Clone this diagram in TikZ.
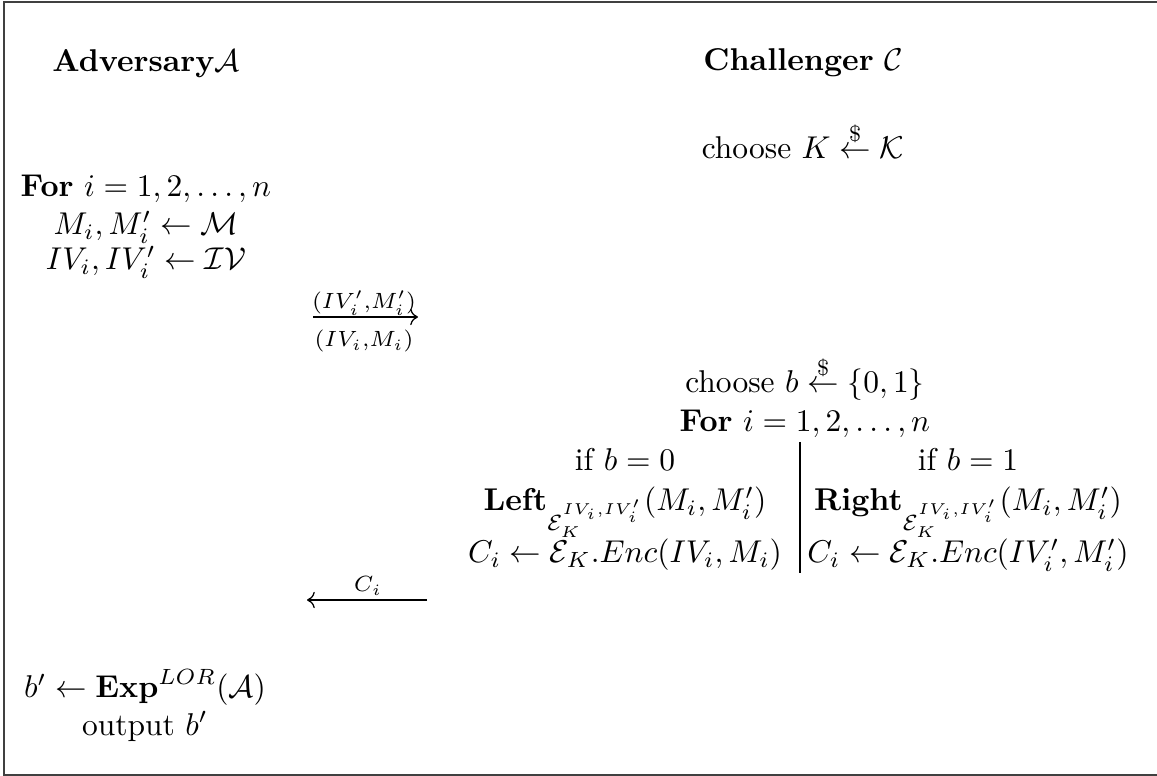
\documentclass[tikz,border=0pt]{standalone}
\usepackage{amsmath}
\usetikzlibrary{arrows.meta}
\begin{document}
\begin{tikzpicture}[x=0.3175pt,y=-0.3175pt,
  txt/.style={anchor=base,inner sep=0pt,outer sep=0pt},
  msg/.style={-{Computer Modern Rightarrow},line width=0.4pt},
  frameline/.style={line width=0.5pt,black!75}]
\useasboundingbox (0,0) rectangle (1157,776);
\draw[frameline] (4,2) rectangle (1170,775);
% Adversary side
\node[txt] (adv) at (146,72) {\textbf{Adversary}$\mathcal{A}$};
\node[txt] (afor) at (146,197) {\textbf{For} $i=1,2,\ldots,n$};
\node[txt] (am) at (146,235) {$M_i,M_i'\leftarrow\mathcal{M}$};
\node[txt] (aiv) at (146,270) {$IV_i,IV_i'\leftarrow\mathcal{IV}$};
\node[txt] (aexp) at (145,698) {$b'\leftarrow\mathbf{Exp}^{LOR}(\mathcal{A})$};
\node[txt] (aout) at (145,735) {output $b'$};
% Challenger side
\node[txt] (chal) at (803,71) {\textbf{Challenger} $\mathcal{C}$};
\node[txt] (ck) at (803,159) {choose $K\stackrel{\$}{\leftarrow}\mathcal{K}$};
\node[txt] (cb) at (805,393) {choose $b\stackrel{\$}{\leftarrow}\{0,1\}$};
\node[txt] (cfor) at (805,432) {\textbf{For} $i=1,2,\ldots,n$};
\node[txt] (if0) at (625,471) {if $b=0$};
\node[txt] (left) at (625,511) {$\mathbf{Left}_{\mathcal{E}_K^{IV_i,IV_i'}}(M_i,M_i')$};
\node[txt] (c0) at (625,563) {$C_i\leftarrow\mathcal{E}_K.Enc(IV_i,M_i)$};
\node[txt] (if1) at (968,471) {if $b=1$};
\node[txt] (right) at (968,511) {$\mathbf{Right}_{\mathcal{E}_K^{IV_i,IV_i'}}(M_i,M_i')$};
\node[txt] (c1) at (968,563) {$C_i\leftarrow\mathcal{E}_K.Enc(IV_i',M_i')$};
\coordinate (vtop) at (800,442);
\coordinate (vbot) at (800,573);
\draw[line width=0.4pt] (vtop) -- (vbot);
% messages
\coordinate (m1s) at (313,317);
\coordinate (m1e) at (418,317);
\draw[msg] (m1s) -- (m1e);
\node[txt] (m1t) at (364,309) {$\scriptstyle (IV_i',M_i')$};
\node[txt] (m1b) at (364,347) {$\scriptstyle (IV_i,M_i)$};
\coordinate (m2s) at (427,600);
\coordinate (m2e) at (307,600);
\draw[msg] (m2s) -- (m2e);
\node[txt] (m2t) at (368,592) {$\scriptstyle C_i$};
\end{tikzpicture}
\end{document}
